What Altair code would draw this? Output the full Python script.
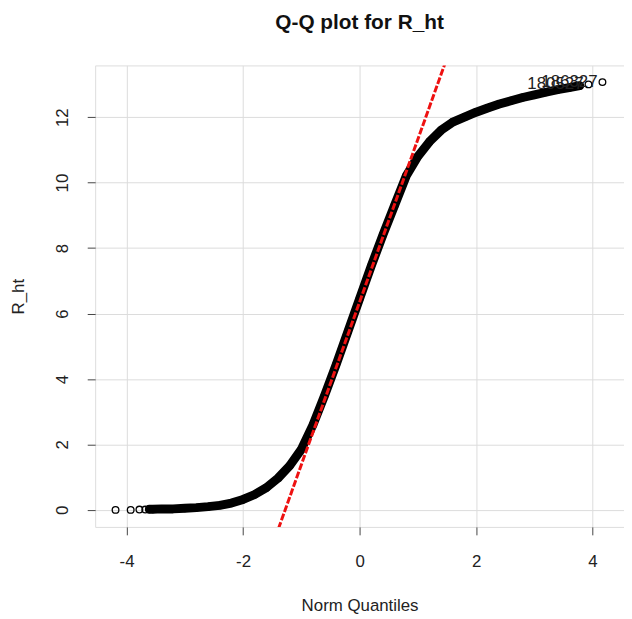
import altair as alt
import pandas as pd

FONT = "Liberation Sans"

chart_title = "Q-Q plot for R_ht"
x_title = "Norm Quantiles"
y_title = "R_ht"

x_ticks = [-4, -2, 0, 2, 4]
y_ticks = [0, 2, 4, 6, 8, 10, 12]

# theoretical quantiles / sample values read along the dense band
band_q = [-3.61, -3.55, -3.4, -3.2, -3.0, -2.8, -2.6, -2.4, -2.2, -2.0, -1.8, -1.6,
          -1.4, -1.2, -1.0, -0.8, -0.6, -0.4, -0.2, 0.0, 0.2, 0.4, 0.6, 0.8, 1.0,
          1.2, 1.4, 1.6, 1.8, 2.0, 2.2, 2.4, 2.6, 2.8, 3.0, 3.2, 3.4, 3.6, 3.78]
band_v = [0.02, 0.02, 0.03, 0.03, 0.05, 0.07, 0.10, 0.14, 0.21, 0.32, 0.47, 0.68,
          0.97, 1.35, 1.85, 2.6, 3.5, 4.45, 5.45, 6.45, 7.45, 8.4, 9.3, 10.2, 10.8,
          11.25, 11.6, 11.85, 12.0, 12.15, 12.28, 12.4, 12.5, 12.6, 12.68, 12.76, 12.84, 12.9, 12.96]

# isolated tail points
low_q = [-4.19, -3.93, -3.78, -3.68]
low_v = [0.0, 0.0, 0.01, 0.01]
high_q = [3.93, 4.17]
high_v = [13.0, 13.07]

# labelled extreme points
label_q = [3.93, 4.17]
label_v = [13.0, 13.07]
label_text = ["180527", "186327"]

# reference line (qqline)
line_intercept = 6.35
line_slope = 4.97
x_range = [-4.54, 4.54]
y_range = [-0.52, 13.58]

pts = pd.DataFrame({"q": low_q + band_q + high_q, "v": low_v + band_v + high_v})
band = pd.DataFrame({"q": band_q, "v": band_v})
line_df = pd.DataFrame({"q": x_range,
                        "v": [line_intercept + line_slope * x for x in x_range]})
labels = pd.DataFrame({"q": label_q, "v": label_v, "t": label_text})

xs = alt.Scale(domain=x_range, nice=False, zero=False)
ys = alt.Scale(domain=y_range, nice=False, zero=False)

x_axis = alt.Axis(values=x_ticks, title=x_title, grid=True, gridColor="#dcdcdc",
                  gridWidth=1, domain=False, tickSize=8, tickColor="#444",
                  tickWidth=1, labelFont=FONT, labelFontSize=17, labelColor="#222",
                  labelPadding=19, labelExpr="toString(datum.value)",
                  titleFont=FONT, titleFontSize=17, titleFontWeight="normal",
                  titleColor="#222", titlePadding=28)
y_axis = alt.Axis(values=y_ticks, title=y_title, grid=True, gridColor="#dcdcdc",
                  gridWidth=1, domain=False, tickSize=8, tickColor="#444",
                  tickWidth=1, labelFont=FONT, labelFontSize=17, labelColor="#222",
                  labelAngle=270, labelAlign="center", labelBaseline="bottom",
                  labelPadding=16, labelExpr="toString(datum.value)",
                  titleFont=FONT, titleFontSize=17, titleFontWeight="normal",
                  titleColor="#222", titlePadding=26)

band_line = alt.Chart(band).mark_line(color="black", strokeWidth=9,
                                      strokeCap="round", strokeJoin="round").encode(
    x=alt.X("q:Q", scale=xs, axis=x_axis),
    y=alt.Y("v:Q", scale=ys, axis=y_axis),
    order="q:Q",
)

points = alt.Chart(pts).mark_point(shape="circle", filled=False, color="black",
                                   size=45, strokeWidth=1.3, opacity=1).encode(
    x=alt.X("q:Q", scale=xs),
    y=alt.Y("v:Q", scale=ys),
)

ref_line = alt.Chart(line_df).mark_line(color="#ee1111", strokeWidth=3,
                                        strokeDash=[7, 2], clip=True).encode(
    x=alt.X("q:Q", scale=xs),
    y=alt.Y("v:Q", scale=ys),
)

texts = alt.Chart(labels).mark_text(align="right", baseline="middle", dx=-5,
                                    font=FONT, fontSize=17, color="#222").encode(
    x=alt.X("q:Q", scale=xs),
    y=alt.Y("v:Q", scale=ys),
    text="t:N",
)

chart = alt.layer(band_line, points, ref_line, texts).properties(
    width=534,
    height=466,
    title=alt.TitleParams(text=chart_title, font=FONT, fontSize=21,
                          fontWeight="bold", color="#111", anchor="middle",
                          offset=33),
    autosize=alt.AutoSizeParams(type="none"),
    padding={"left": 88, "top": 55, "right": 0, "bottom": 90},
).configure_view(stroke="#444", strokeWidth=1.2).configure(background="white")

chart.save("out.html", embed_options={"renderer": "svg", "actions": False})
